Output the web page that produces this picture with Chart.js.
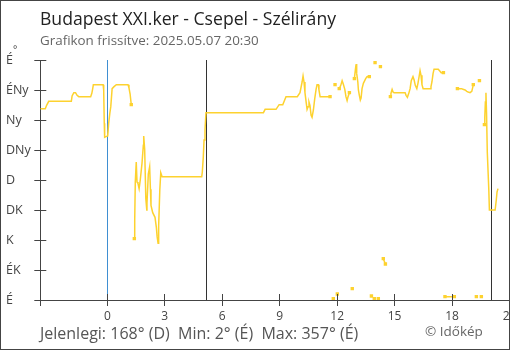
<!DOCTYPE html>
<html lang="hu">
<head>
<meta charset="utf-8">
<script src="https://cdn.jsdelivr.net/npm/chart.js@4.4.1/dist/chart.umd.min.js"></script>
<style>
  html, body { margin: 0; padding: 0; background: #fff; overflow: hidden; }
  #wrap { position: relative; width: 510px; height: 350px; overflow: hidden; font-family: "Open Sans", sans-serif; }
  #chart { position: absolute; left: 0; top: 0; }
  #frame { position: absolute; left: 0; top: 0; width: 510px; height: 350px; box-sizing: border-box; border: 1px solid #444; pointer-events: none; }
  .txt { position: absolute; white-space: pre; line-height: 1; }
  #title { left: 40px; top: 10px; font-size: 17.6px; color: #222; }
  #subtitle { left: 40px; top: 33.5px; font-size: 13.4px; color: #666; }
  #unit { left: 13px; top: 44px; font-size: 10px; color: #444; }
  #footer { left: 40px; top: 325px; font-size: 16px; color: #555; }
  #credit { left: 425px; top: 325px; font-size: 13.5px; color: #666; }
</style>
</head>
<body>
<div id="wrap">
  <canvas id="chart" width="530" height="350"></canvas>
  <div class="txt" id="title">Budapest XXI.ker - Csepel - Szélirány</div>
  <div class="txt" id="subtitle">Grafikon frissítve: 2025.05.07 20:30</div>
  <div class="txt" id="unit">°</div>
  <div class="txt" id="footer">Jelenlegi: 168° (D)  Min: 2° (É)  Max: 357° (É)</div>
  <div class="txt" id="credit">© Időkép</div>
  <div id="frame"></div>
</div>
<script>
// wind direction, hours relative to midnight of 2025.05.07
// null = break in the line (missing sample or 360/0 wrap)

const dirLabels = ["É", "ÉK", "K", "DK", "D", "DNy", "Ny", "ÉNy", "É"]; // 0..360 step 45
const hourTicks = [-3.5, 0, 3, 6, 9, 12, 15, 18, 21];
const dayMarkHours = [0, 5.2, 20.05]; // midnight, sunrise, sunset

const hours = [
  -3.50, -3.24, -3.17, -3.06, -1.88, -1.84, -1.75, -1.66, -1.58, -1.49, -0.87, -0.81, -0.77, -0.73,
  -0.22, -0.19, -0.16, -0.14, -0.07, 0.02, 0.07, 0.13, 0.18, 0.25, 0.35, 0.47, 1.08, 1.13, 1.19, 1.25,
  1.33,
  1.41, 1.43, 1.46, 1.51, 1.55, 1.60, 1.66, 1.72, 1.81, 1.88, 1.90, 1.95, 2.01, 2.06, 2.07, 2.14, 2.21,
  2.25, 2.28, 2.37, 2.49, 2.56, 2.60, 2.65, 2.68, 2.74, 2.79, 2.86, 4.93, 4.96, 5.01, 5.05, 5.10, 5.15,
  8.15, 8.24, 8.81, 8.97, 9.16, 9.33, 9.92, 10.06, 10.17, 10.22, 10.27, 10.32, 10.39, 10.43, 10.48,
  10.53, 10.58, 10.64, 10.69, 10.76, 10.83, 10.90, 10.95, 11.02, 11.05, 11.11, 11.63,
  11.70, 11.80, 11.85, 11.89, 11.95, 12.01, 12.06,
  12.11, 12.19, 12.26, 12.32, 12.40, 12.46, 12.52, 12.57, 12.64,
  12.70, 12.79, 12.85,
  12.90, 12.95, 12.99, 13.02, 13.08, 13.11, 13.16, 13.21, 13.25, 13.30, 13.37, 13.49, 13.56, 13.68,
  13.73, 13.79, 13.86, 13.94, 13.96, 13.98, 14.07, 14.15, 14.20, 14.26, 14.33, 14.41, 14.52, 14.60,
  14.78, 14.81, 14.87, 14.92, 14.97, 15.55, 15.60, 15.67, 15.74, 15.81, 15.87, 15.96, 16.02, 16.08,
  16.16, 16.22, 16.28, 16.33, 16.38, 16.43, 16.49, 16.85, 16.90, 16.95, 17.01, 17.06, 17.28, 17.37,
  17.43, 17.55,
  17.59, 17.63, 17.90, 18.12, 18.20,
  18.28, 18.51, 18.57, 18.68, 18.77, 18.84, 18.94, 19.03, 19.08, 19.11,
  19.19, 19.27, 19.35, 19.43, 19.48, 19.53, 19.61,
  19.69, 19.71, 19.74, 19.77, 19.80, 19.84, 19.92, 19.95, 20.25, 20.31, 20.35, 20.40
];

const dirs = [
  287, 287, 292, 298, 298, 306, 311, 311, 307, 305, 305, 310, 316, 323,
  323, 315, 265, 244, 245, 246, 265, 280, 290, 317, 320, 323, 323, 318, 309, 293,
  null,
  92, 120, 177, 207, 177, 175, 167, 180, 205, 232, 246, 226, 152, 135, 145, 189, 200,
  166, 142, 131, 124, 109, 95, 85, 111, 165, 191, 185, 185, 192, 214, 240, 255, 281,
  281, 286, 286, 293, 293, 305, 305, 311, 327, 336, 327, 311, 295, 286, 290,
  297, 292, 277, 274, 285, 302, 316, 323, 323, 315, 305, 305,
  null, 2, null, 323, null, 9, null,
  317, 322, 329, 324, 316, 305, 299, 305, 311,
  null, 17, null,
  332, 345, 354, 340, 327, 315, 307, 300, 303, 317, 325, 332, 335, 335,
  null, 6, null, 2, null, 356, null, 2, null, 350, null, 62, 54, null,
  305, 310, 316, 312, 311, 311, 307, 304, 310, 317, 329, 335, 330, 322,
  317, 325, 335, 344, 337, 323, 317, 317, 320, 327, 340, 346, 346, 343,
  341, 341,
  null, 5, 5, 5, null,
  317, 317, 316, 315, 313, 312, 311, 313, 319, 323,
  null, 5, null, 329, null, 5, null,
  263, 274, 297, 311, 282, 222, 165, 135, 135, 150, 162, 167
];

const YELLOW = "#fdd22f";
const AXIS = "#444";

// tick marks also reach into the plot area
const innerTicks = {
  id: "innerTicks",
  afterDraw(chart) {
    const { ctx, chartArea: a, scales: { x, y } } = chart;
    const al = p => Math.round(p - 0.5) + 0.5;
    ctx.save();
    ctx.strokeStyle = AXIS;
    ctx.lineWidth = 1;
    ctx.beginPath();
    x.ticks.forEach(t => {
      const px = al(x.getPixelForValue(t.value));
      ctx.moveTo(px, a.bottom);
      ctx.lineTo(px, a.bottom - 6);
    });
    y.ticks.forEach(t => {
      const py = al(y.getPixelForValue(t.value));
      ctx.moveTo(a.left, py);
      ctx.lineTo(a.left + 6, py);
    });
    ctx.stroke();
    ctx.restore();
  }
};

// midnight (blue) + sunrise / sunset (dark)
const dayLines = {
  id: "dayLines",
  beforeDatasetsDraw(chart) {
    const { ctx, chartArea: a, scales: { x } } = chart;
    ctx.save();
    ctx.lineWidth = 1;
    dayMarkHours.forEach((h, i) => {
      const px = Math.round(x.getPixelForValue(h) - 0.5) + 0.5;
      ctx.strokeStyle = i === 0 ? "#3f8fd2" : "#333";
      ctx.beginPath();
      ctx.moveTo(px, a.top);
      ctx.lineTo(px, a.bottom);
      ctx.stroke();
    });
    ctx.restore();
  }
};

function edgePoint(ctx) {
  const i = ctx.dataIndex;
  if (dirs[i] == null || i === 0 || i === dirs.length - 1) return 0;
  return (dirs[i - 1] == null || dirs[i + 1] == null) ? 2.4 : 0;
}

new Chart(document.getElementById("chart"), {
  type: "line",
  data: {
    datasets: [{
      data: hours.map((h, i) => ({ x: h, y: dirs[i] })),
      borderColor: YELLOW,
      backgroundColor: YELLOW,
      borderWidth: 1.5,
      tension: 0,
      spanGaps: false,
      pointStyle: "rect",
      pointRadius: edgePoint,
      pointBorderWidth: 0,
      pointBackgroundColor: YELLOW,
      pointHoverRadius: 0
    }]
  },
  options: {
    responsive: false,
    animation: false,
    devicePixelRatio: 1,
    layout: { padding: { left: 6, right: 20.5, top: 60, bottom: 25 } },
    plugins: { legend: { display: false }, tooltip: { enabled: false } },
    scales: {
      x: {
        type: "linear",
        min: -3.5,
        max: 21,
        afterBuildTicks: s => { s.ticks = hourTicks.map(v => ({ value: v })); },
        afterFit: s => { s.height = 25; },
        ticks: {
          autoSkip: false,
          maxRotation: 0,
          padding: 3,
          color: AXIS,
          font: { family: "Open Sans", size: 12 },
          callback: v => (v < 0 ? "" : String(v))
        },
        grid: { drawOnChartArea: false, tickLength: 6, color: AXIS },
        border: { color: AXIS }
      },
      y: {
        min: 0,
        max: 360,
        afterFit: s => { s.width = 34.3; },
        ticks: {
          stepSize: 45,
          padding: 0,
          crossAlign: "far",
          color: AXIS,
          font: { family: "Open Sans", size: 12.5 },
          callback: v => dirLabels[v / 45]
        },
        grid: { drawOnChartArea: false, tickLength: 6, color: AXIS },
        border: { color: AXIS }
      }
    }
  },
  plugins: [dayLines, innerTicks]
});
</script>
</body>
</html>
